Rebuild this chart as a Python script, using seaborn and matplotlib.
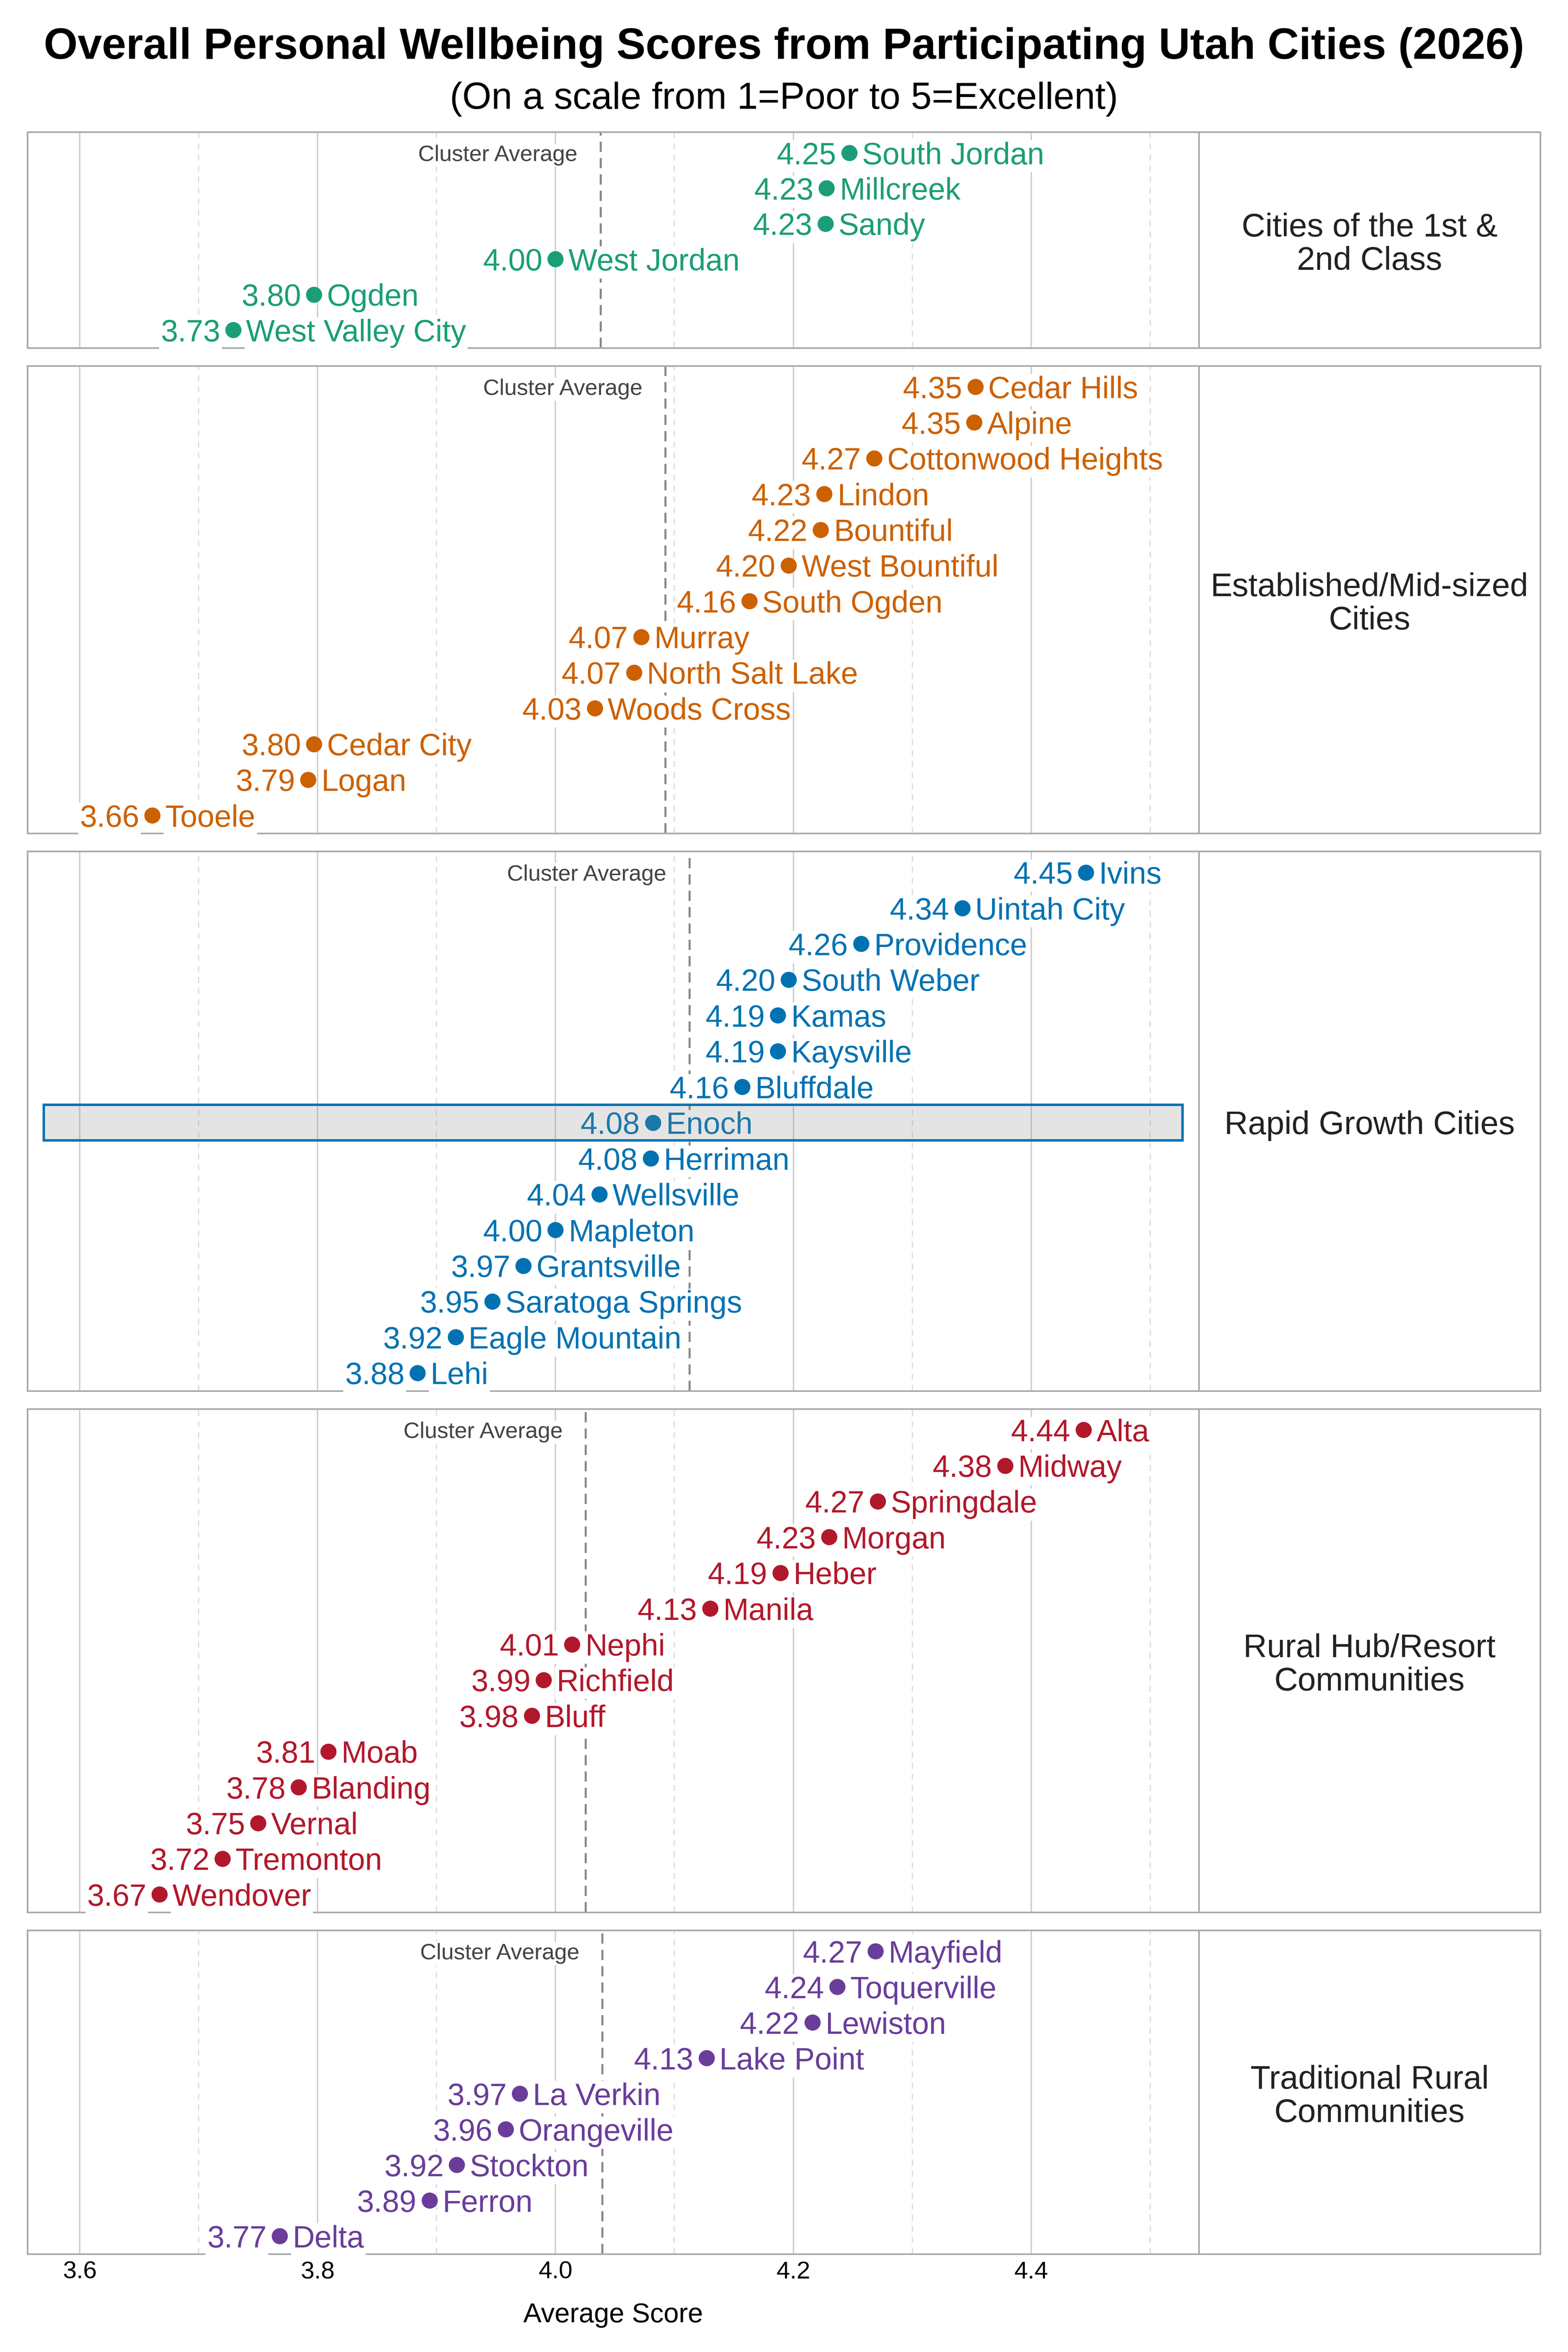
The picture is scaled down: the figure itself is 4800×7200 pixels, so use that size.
import numpy as np
import pandas as pd
import seaborn as sns
import matplotlib
import matplotlib.pyplot as plt

matplotlib.use('Agg')

sns.set_theme(style="white")
plt.rcParams["font.family"] = ["Liberation Sans", "DejaVu Sans"]

TITLE = "Overall Personal Wellbeing Scores from Participating Utah Cities (2026)"
SUBTITLE = "(On a scale from 1=Poor to 5=Excellent)"

CLUSTER_LABELS = [
    "Cities of the 1st &\n2nd Class",
    "Established/Mid-sized\nCities",
    "Rapid Growth Cities",
    "Rural Hub/Resort\nCommunities",
    "Traditional Rural\nCommunities",
]
CLUSTER_COLORS = ["#1b9e77", "#cc6100", "#0072b2", "#b2182b", "#6a3d9a"]

first_class_cities = ["South Jordan", "Millcreek", "Sandy", "West Jordan", "Ogden", "West Valley City"]
first_class_scores = [4.247, 4.228, 4.227, 4.000, 3.797, 3.729]

established_cities = ["Cedar Hills", "Alpine", "Cottonwood Heights", "Lindon", "Bountiful",
                      "West Bountiful", "South Ogden", "Murray", "North Salt Lake", "Woods Cross",
                      "Cedar City", "Logan", "Tooele"]
established_scores = [4.353, 4.352, 4.268, 4.226, 4.223, 4.196, 4.163, 4.072, 4.066, 4.033,
                      3.797, 3.792, 3.661]

rapid_cities = ["Ivins", "Uintah City", "Providence", "South Weber", "Kamas", "Kaysville",
                "Bluffdale", "Enoch", "Herriman", "Wellsville", "Mapleton", "Grantsville",
                "Saratoga Springs", "Eagle Mountain", "Lehi"]
rapid_scores = [4.446, 4.342, 4.257, 4.196, 4.187, 4.187, 4.157, 4.082, 4.080, 4.037, 4.000,
                3.973, 3.947, 3.916, 3.884]

resort_cities = ["Alta", "Midway", "Springdale", "Morgan", "Heber", "Manila", "Nephi",
                 "Richfield", "Bluff", "Moab", "Blanding", "Vernal", "Tremonton", "Wendover"]
resort_scores = [4.444, 4.378, 4.271, 4.230, 4.189, 4.130, 4.014, 3.990, 3.980, 3.809,
                 3.784, 3.750, 3.720, 3.667]

rural_cities = ["Mayfield", "Toquerville", "Lewiston", "Lake Point", "La Verkin",
                "Orangeville", "Stockton", "Ferron", "Delta"]
rural_scores = [4.269, 4.237, 4.216, 4.127, 3.970, 3.958, 3.917, 3.894, 3.768]

HIGHLIGHT = ["Enoch"]

all_cities = [first_class_cities, established_cities, rapid_cities, resort_cities, rural_cities]
all_scores = [first_class_scores, established_scores, rapid_scores, resort_scores, rural_scores]

# layout in pixels of the 4800x7200 canvas
W, H = 4800, 7200
TOP_PX, BOTTOM_PX, GAP_PX = 404, 6900, 55
LEFT, MID, RIGHT = 84 / W, 3670 / W, 4715 / W
XLIM = (3.556, 4.541)
GRID = "#cccccc"
FRAME = "#aaaaaa"

fig = plt.figure(figsize=(16, 24), dpi=300)
fig.text(0.5, 1 - 180 / H, TITLE, ha="center", va="baseline", fontsize=32,
         fontweight="bold", color="black")
fig.text(0.5, 1 - 333 / H, SUBTITLE, ha="center", va="baseline", fontsize=27.5, color="black")

counts = [len(c) for c in all_cities]
unit = (BOTTOM_PX - TOP_PX - GAP_PX * (len(counts) - 1)) / sum(counts)
y_px = TOP_PX
n_panels = len(all_cities)

for i, (cities, scores) in enumerate(zip(all_cities, all_scores)):
    n = len(cities)
    h_px = n * unit
    bottom = 1 - (y_px + h_px) / H
    ax = fig.add_axes([LEFT, bottom, MID - LEFT, h_px / H])
    lab = fig.add_axes([MID, bottom, RIGHT - MID, h_px / H])
    y_px += h_px + GAP_PX
    color = CLUSTER_COLORS[i]

    df = pd.DataFrame({"City": cities, "Score": scores, "Row": np.arange(n)})
    sns.scatterplot(data=df, x="Score", y="Row", color=color, s=140, linewidth=0,
                    ax=ax, legend=False, zorder=4)

    for j, (name, v) in enumerate(zip(cities, scores)):
        box = dict(boxstyle="square,pad=0.05", fc="white", ec="none")
        ax.annotate(f"{v:.2f}", (v, j), xytext=(-9.5, 0), textcoords="offset points",
                    ha="right", va="center_baseline", fontsize=22.5, color=color,
                    bbox=box, zorder=3)
        ax.annotate(name, (v, j), xytext=(9.5, 0), textcoords="offset points",
                    ha="left", va="center_baseline", fontsize=22.5, color=color,
                    bbox=box, zorder=3)
        if name in HIGHLIGHT:
            ax.axhspan(j - 0.5, j + 0.5, xmin=0.014, xmax=0.986,
                       facecolor=(0.54, 0.54, 0.54, 0.224), edgecolor=color,
                       linewidth=1.8, zorder=6)

    avg = np.mean(scores)
    ax.axvline(avg, color="#888888", ls=(0, (5, 3)), lw=1.5, zorder=2)
    ax.annotate("Cluster Average", (avg, 0), xytext=(-17, 0), textcoords="offset points",
                ha="right", va="center_baseline", fontsize=16.5, color="#444444",
                bbox=dict(boxstyle="square,pad=0.05", fc="white", ec="none"), zorder=3)

    ax.set_xlim(*XLIM)
    ax.set_ylim(n - 0.5, -0.59)
    ax.set_xticks([3.6, 3.8, 4.0, 4.2, 4.4])
    ax.set_xticks([3.7, 3.9, 4.1, 4.3, 4.5], minor=True)
    ax.set_yticks([])
    ax.set_axisbelow(True)
    ax.grid(which="major", axis="x", color=GRID, lw=1.0, ls="-")
    ax.grid(which="minor", axis="x", color="#dddddd", lw=0.9, ls=(0, (5, 4)))
    ax.set_ylabel("")
    ax.tick_params(axis="x", which="both", length=0, pad=5, labelsize=18, labelcolor="black")
    if i < n_panels - 1:
        ax.tick_params(labelbottom=False)
        ax.set_xlabel("")
    else:
        ax.set_xticklabels(["3.6", "3.8", "4.0", "4.2", "4.4"])
        ax.set_xlabel("Average Score", fontsize=20, labelpad=14, color="black")
    for sp in ax.spines.values():
        sp.set_color(FRAME)
        sp.set_linewidth(1.2)

    lab.set_xticks([])
    lab.set_yticks([])
    for sp in lab.spines.values():
        sp.set_color(FRAME)
        sp.set_linewidth(1.2)
    lab.annotate(CLUSTER_LABELS[i], (0.5, 0.5), xycoords="axes fraction",
                 xytext=(0, -3.5), textcoords="offset points",
                 ha="center", va="center", fontsize=24, color="#222222", linespacing=1.1)

fig.savefig("out.png", dpi=300)
